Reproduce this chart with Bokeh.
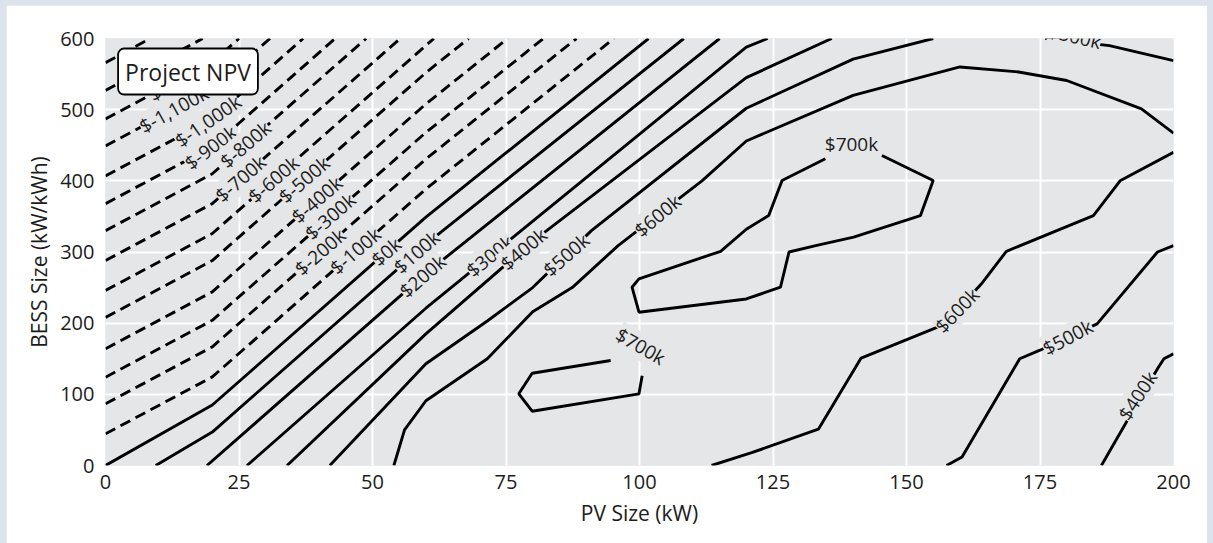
from bokeh.plotting import figure
from bokeh.models import Range1d, Label, FixedTicker
from bokeh.layouts import column
from bokeh.embed import file_html
from bokeh.resources import INLINE
from bokeh.core.properties import value

# ---------------- data ----------------
# Negative-NPV contour lines (dashed), level in $k
neg_levels = [-100, -200, -300, -400, -500, -600, -700, -800, -900, -1000, -1100, -1200, -1300, -1400]
neg_x = [
    [0, 20, 60, 95.2],
    [0, 20, 60, 88.2],
    [0, 20, 60, 82.0],
    [0, 20, 60, 75.3],
    [0, 20, 60, 68.0],
    [0, 20, 61.5],
    [0, 20, 55.2],
    [0, 20, 48.8],
    [0, 20, 43.0],
    [0, 20, 37.0],
    [0, 20, 30.8],
    [0, 20, 25.0],
    [0, 18.2],
    [0, 8.4],
]
neg_y = [
    [44.5, 124.5, 388.5, 600],
    [86.7, 166.7, 430.7, 600],
    [124, 204, 468, 600],
    [164, 244, 508, 600],
    [208, 288, 552, 600],
    [246, 326, 600],
    [288, 368, 600],
    [330, 410, 600],
    [368, 448, 600],
    [407, 487, 600],
    [449, 529, 600],
    [487, 567, 600],
    [527, 600],
    [566, 600],
]

# Non-negative NPV contour lines (solid), level in $k
pos_levels = [0, 100, 200, 300, 400, 500, 600, 600, 500, 400, 500, 700, 700]
pos_x = [
    [0, 20, 60, 101.7],
    [9.4, 20, 60, 108.3],
    [19, 60, 115],
    [26.5, 60, 120, 124],
    [34, 60, 80, 120, 136],
    [42, 60, 71.5, 80, 91, 120, 140, 155],
    [54, 56, 60, 71.5, 80, 87.4, 96, 108.6, 111.7, 120, 140, 160, 171, 180, 194, 200],
    [113.5, 121, 133.5, 141.5, 155.7, 160, 164, 168.7, 185, 190, 200],
    [157.5, 160.4, 171.2, 175, 185.7, 197, 200],
    [186.5, 191, 197, 198.2, 200],
    [176, 188, 200],
    [145.4, 155, 152.6, 140.1, 133, 128, 126.4, 120, 99.9, 98.6, 99.9, 115.2, 120, 124.2, 126.7, 134.8],
    [100.5, 99.9, 79.9, 77.4, 79.9, 94.6],
]
pos_y = [
    [0, 85, 349, 600],
    [0, 47, 311, 600],
    [0, 270, 600],
    [0, 221, 588, 600],
    [0, 185, 315, 545, 600],
    [0, 143, 203, 250, 330, 502, 571, 600],
    [0, 50, 91, 150, 216, 250, 309, 382, 400, 456, 520, 560, 553, 541, 501, 467],
    [0, 18, 51, 151, 194, 222, 255, 301, 351, 400, 440],
    [0, 12, 150, 162, 199, 300, 309],
    [0, 58.6, 136, 150, 157],
    [600, 590, 569],
    [435.6, 400.4, 351, 320.8, 309, 300, 250.5, 234, 215.4, 250.5, 262.3, 301, 332, 351.3, 400.4, 431],
    [126, 100.7, 76.3, 100.7, 129.7, 147.5],
]

# Inline contour labels
label_text = ["$-1,200k", "$-1,100k", "$-1,000k", "$-900k", "$-800k", "$-700k", "$-600k",
              "$-500k", "$-400k", "$-300k", "$-200k", "$-100k", "$0k", "$100k", "$200k",
              "$300k", "$400k", "$500k", "$600k", "$700k", "$700k", "$600k", "$500k",
              "$400k", "$500k"]
label_x = [14.5, 12.8, 19.2, 19.7, 26.2, 25.3, 31.5, 37.2, 39.6, 42.1, 40.2, 46.8, 52.6, 58.3,
           59.4, 72, 78.3, 86.3, 103.4, 139.7, 100.2, 159.5, 180.2, 193.3, 181.5]
label_y = [545, 500.2, 483.8, 446.8, 450.9, 403, 401.9, 401.5, 373.4, 349.9, 300, 301.4, 300.2,
           299.8, 266, 294.4, 304, 295.8, 351, 452, 167.5, 218, 180, 98, 603]
label_angle = [29, 29, 35, 37, 41, 41, 41, 41, 41, 41, 41, 41, 41, 41, 41, 39, 40, 41, 40, 0,
               -30, 46, 28, 57, -13]

x_ticks = [0, 25, 50, 75, 100, 125, 150, 175, 200]
y_ticks = [0, 100, 200, 300, 400, 500, 600]

# ---------------- styling ----------------
BG = "#e5e6e8"
FONT = "Open Sans"
INK = "#1c1c1c"

p = figure(width=1201, height=538, x_range=Range1d(0, 200), y_range=Range1d(0, 600),
           output_backend="svg", toolbar_location=None,
           background_fill_color=BG, border_fill_color="white",
           outline_line_color=None,
           x_axis_label="PV Size (kW)", y_axis_label="BESS Size (kW/kWh)")
p.min_border_left = 99
p.min_border_right = 34
p.min_border_top = 33
p.min_border_bottom = 78

p.xaxis.ticker = FixedTicker(ticks=x_ticks)
p.yaxis.ticker = FixedTicker(ticks=y_ticks)
for ax in (p.xaxis, p.yaxis):
    ax.axis_line_color = None
    ax.major_tick_line_color = None
    ax.minor_tick_line_color = None
    ax.major_tick_out = 0
    ax.major_tick_in = 0
    ax.major_label_text_font = FONT
    ax.major_label_text_font_size = "20px"
    ax.major_label_text_color = INK
    ax.axis_label_text_font = FONT
    ax.axis_label_text_font_size = "21px"
    ax.axis_label_text_font_style = "normal"
    ax.axis_label_text_color = INK
p.xaxis.major_label_standoff = 9
p.xaxis.axis_label_standoff = 7
p.yaxis.major_label_standoff = 11
p.yaxis.axis_label_standoff = 4

p.xgrid.ticker = FixedTicker(ticks=x_ticks)
p.ygrid.ticker = FixedTicker(ticks=y_ticks)
p.xgrid.grid_line_color = "white"
p.ygrid.grid_line_color = "white"
p.xgrid.grid_line_width = 2
p.ygrid.grid_line_width = 2

p.multi_line(neg_x, neg_y, line_color="black", line_width=2.9, line_dash="11 6")
p.multi_line(pos_x, pos_y, line_color="black", line_width=2.9)

p.text(x=label_x, y=label_y, text=label_text, angle=label_angle, angle_units="deg",
       text_font=value(FONT), text_font_size="19px", text_color=INK,
       text_align="center", text_baseline="middle",
       background_fill_color=BG, background_fill_alpha=1.0)

box = Label(x=15.45, y=553.6, x_units="data", y_units="data", text="Project NPV",
            text_font=FONT, text_font_size="23px", text_color=INK,
            text_align="center", text_baseline="middle",
            background_fill_color="white", background_fill_alpha=1.0,
            border_line_color="black", border_line_width=1.8,
            padding=7, border_radius=6)
p.add_layout(box)

layout = column(p, styles={"background-color": "#dde3ec", "padding": "5px 6px 0px 6px"})

open("out.html", "w").write(file_html(layout, INLINE))
